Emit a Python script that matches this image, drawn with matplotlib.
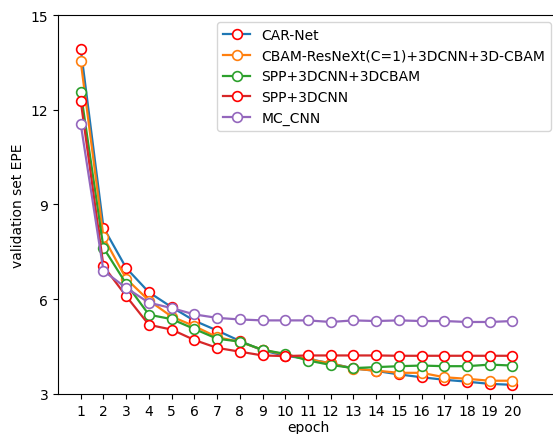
import matplotlib
matplotlib.use("Agg")
import matplotlib.pyplot as plt

epochs = list(range(1, 21))
car_net = [13.93, 8.27, 6.99, 6.22, 5.75, 5.32, 5.01, 4.68, 4.38, 4.21,
           4.11, 3.97, 3.81, 3.73, 3.62, 3.53, 3.45, 3.39, 3.32, 3.29]
cbam_resnext = [13.53, 7.97, 6.65, 5.96, 5.45, 5.15, 4.80, 4.65, 4.40, 4.25,
                4.10, 3.97, 3.80, 3.74, 3.67, 3.67, 3.53, 3.48, 3.42, 3.42]
spp_3dcnn_3dcbam = [12.56, 7.63, 6.49, 5.51, 5.37, 5.06, 4.75, 4.66, 4.40, 4.27,
                    4.06, 3.92, 3.82, 3.85, 3.88, 3.90, 3.88, 3.88, 3.93, 3.90]
spp_3dcnn = [12.28, 7.05, 6.10, 5.19, 5.04, 4.71, 4.46, 4.34, 4.22, 4.20,
             4.22, 4.22, 4.22, 4.22, 4.21, 4.21, 4.21, 4.21, 4.21, 4.21]
mc_cnn = [11.55, 6.90, 6.36, 5.89, 5.72, 5.52, 5.41, 5.36, 5.33, 5.33,
          5.33, 5.28, 5.33, 5.31, 5.33, 5.31, 5.31, 5.28, 5.28, 5.31]

labels = ["CAR-Net", "CBAM-ResNeXt(C=1)+3DCNN+3D-CBAM", "SPP+3DCNN+3DCBAM",
          "SPP+3DCNN", "MC_CNN"]
series = [car_net, cbam_resnext, spp_3dcnn_3dcbam, spp_3dcnn, mc_cnn]
line_colors = ["tab:blue", "tab:orange", "tab:green", "tab:red", "tab:purple"]
edge_colors = ["red", "tab:orange", "tab:green", "red", "tab:purple"]
yticks = [3, 6, 9, 12, 15]

plt.rcParams['font.family'] = ['DejaVu Sans']
fig = plt.figure(figsize=(5.53, 4.35), dpi=100)
ax = fig.add_axes([0.1049, 0.0920, 0.904, 0.8712])

for vals, lab, lc, ec in zip(series, labels, line_colors, edge_colors):
    ax.plot(epochs, vals, color=lc, linewidth=1.6, marker='o', markersize=7,
            markerfacecolor='white', markeredgecolor=ec, markeredgewidth=1.2,
            label=lab)

ax.set_xlim(0, 22)
ax.set_ylim(3, 15)
ax.set_xticks(epochs)
ax.set_yticks(yticks)
ax.spines['right'].set_visible(False)
ax.tick_params(labelsize=10)
ax.set_xlabel("epoch", fontsize=10, labelpad=2)
ax.set_ylabel("validation set EPE", fontsize=10)
ax.legend(loc='upper right', fontsize=10)

fig.savefig("out.png", dpi=100)
